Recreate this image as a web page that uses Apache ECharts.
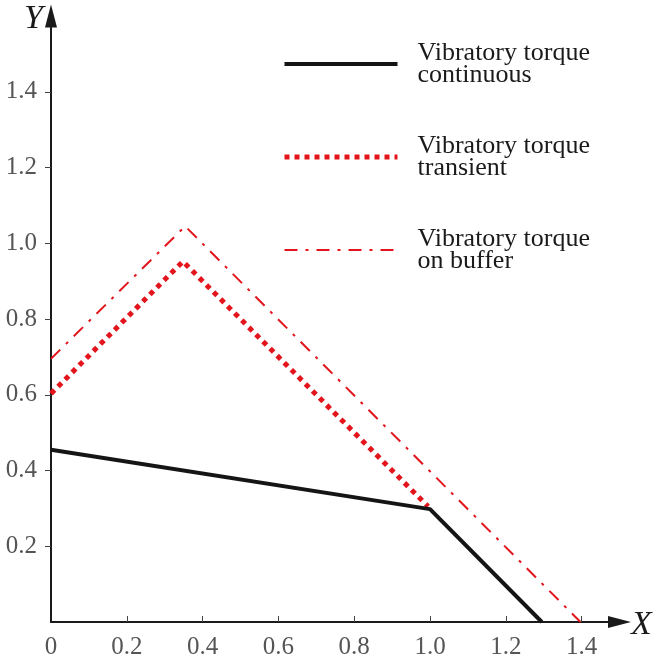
<!DOCTYPE html>
<html><head><meta charset="utf-8">
<script src="https://cdn.jsdelivr.net/npm/echarts@6/dist/echarts.min.js"></script>
<style>html,body{margin:0;padding:0;background:#fff}#c{width:660px;height:662px}</style>
</head><body><div id="c"></div>
<script>
const seriesNames = ['Vibratory torque\ncontinuous', 'Vibratory torque\ntransient', 'Vibratory torque\non buffer'];
const continuous = [[0, 0.455], [1.0, 0.298], [1.295, 0]];
const transient = [[0, 0.603], [0.348, 0.952], [0.995, 0.305]];
const buffer = [[0, 0.695], [0.354, 1.045], [1.397, 0]];
const xTicks = [0, 0.2, 0.4, 0.6, 0.8, 1.0, 1.2, 1.4];
const yTicks = [0.2, 0.4, 0.6, 0.8, 1.0, 1.2, 1.4];

const font = 'Liberation Serif';
const red = '#e3141c';
const chart = echarts.init(document.getElementById('c'));
chart.setOption({
  animation: false,
  grid: { left: 51, top: 16, width: 568.5, height: 606 },
  legend: {
    orient: 'vertical', left: 282, top: 40, padding: 0,
    itemWidth: 113, itemHeight: 14, itemGap: 45,
    selectedMode: false,
    lineStyle: { width: 'inherit', type: 'inherit' },
    itemStyle: { opacity: 0 },
    textStyle: { fontFamily: font, fontSize: 26, lineHeight: 22, color: '#1a1a1a', padding: [2, 0, 0, 15] },
    data: seriesNames
  },
  xAxis: {
    type: 'value', min: 0, max: 1.5,
    axisLine: { show: true, lineStyle: { color: '#1a1a1a', width: 2 }, symbol: ['none', 'triangle'], symbolSize: [12, 23] },
    axisTick: { show: true, inside: true, length: 6, lineStyle: { color: '#444', width: 1 }, customValues: xTicks.slice(1) },
    axisLabel: { customValues: xTicks, formatter: v => v.toFixed(1) === '0.0' ? '0' : v.toFixed(1), fontFamily: font, fontSize: 25, color: '#555', margin: 13 },
    splitLine: { show: false }
  },
  yAxis: {
    type: 'value', min: 0, max: 1.6,
    axisLine: { show: true, lineStyle: { color: '#1a1a1a', width: 2 }, symbol: ['none', 'triangle'], symbolSize: [12, 23] },
    axisTick: { show: true, inside: false, length: 6, lineStyle: { color: '#444', width: 1 }, customValues: yTicks },
    axisLabel: { customValues: yTicks, formatter: v => v.toFixed(1), fontFamily: font, fontSize: 25, color: '#555', margin: 14 },
    splitLine: { show: false }
  },
  graphic: [
    { type: 'text', left: 24, top: 2, style: { text: 'Y', font: 'italic 34px "Liberation Serif"', fill: '#1a1a1a' } },
    { type: 'text', left: 631, top: 608, style: { text: 'X', font: 'italic 34px "Liberation Serif"', fill: '#1a1a1a' } }
  ],
  series: [
    { name: seriesNames[0], type: 'line', data: continuous, symbol: 'none', z: 3,
      lineStyle: { color: '#151515', width: 4 }, itemStyle: { color: '#151515' } },
    { name: seriesNames[1], type: 'line', data: transient, symbol: 'none', z: 2,
      lineStyle: { color: red, width: 5, type: [5, 5], cap: 'butt' }, itemStyle: { color: red } },
    { name: seriesNames[2], type: 'line', data: buffer, symbol: 'none', z: 2,
      lineStyle: { color: red, width: 2, type: [13, 8, 3, 8] }, itemStyle: { color: red } }
  ]
});
</script></body></html>
